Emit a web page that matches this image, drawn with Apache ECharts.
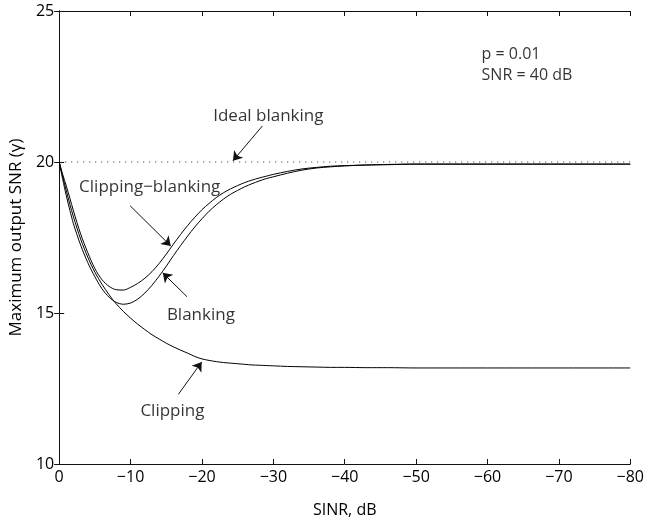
<!DOCTYPE html>
<html>
<head>
<meta charset="utf-8">
<script src="https://cdn.jsdelivr.net/npm/echarts@6/dist/echarts.min.js"></script>
<style>
html,body{margin:0;padding:0;background:#fff;}
#chart{width:647px;height:523px;}
</style>
</head>
<body>
<div id="chart"></div>
<script>
// SINR values (dB)
const sinr = [0,-0.5,-1,-1.5,-2,-3,-4,-5,-6,-7,-8,-9,-10,-11,-12,-13,-14,-15,-16,-17,-18,-19,-20,-21,-22,-23,-24,-25,-26,-27,-28,-29,-30,-32,-34,-36,-38,-40,-43,-46,-50,-55,-60,-70,-80];
// Maximum output SNR for each nonlinearity
const clipBlank = [20,19.58,19.2,18.8,18.38,17.62,17.0,16.47,16.1,15.88,15.77,15.76,15.85,15.98,16.15,16.37,16.64,16.95,17.28,17.6,17.9,18.17,18.42,18.63,18.82,18.98,19.11,19.22,19.32,19.4,19.47,19.53,19.59,19.69,19.77,19.82,19.86,19.88,19.9,19.92,19.93,19.93,19.93,19.93,19.93];
const blanking = [20,19.42,18.88,18.4,17.95,17.25,16.67,16.2,15.8,15.52,15.35,15.29,15.33,15.46,15.66,15.92,16.22,16.55,16.9,17.23,17.55,17.85,18.12,18.37,18.58,18.77,18.93,19.06,19.18,19.28,19.37,19.45,19.51,19.63,19.73,19.8,19.84,19.87,19.9,19.91,19.93,19.93,19.93,19.93,19.93];
const clipping = [20,19.5,19.05,18.6,18.18,17.45,16.85,16.35,15.95,15.6,15.3,15.05,14.83,14.63,14.45,14.28,14.14,14.0,13.88,13.77,13.67,13.56,13.48,13.43,13.39,13.36,13.34,13.32,13.3,13.28,13.27,13.26,13.25,13.23,13.22,13.21,13.2,13.2,13.19,13.19,13.18,13.18,13.18,13.18,13.18];
const idealX = [0,-80];
const idealY = [20,20];

// tick labels
const xTickValues = [0,-10,-20,-30,-40,-50,-60,-70,-80];
const xTickLabels = ['0','\u221210','\u221220','\u221230','\u221240','\u221250','\u221260','\u221270','\u221280'];
const yTickValues = [10,15,20,25];
const yTickLabels = ['10','15','20','25'];

// annotations (data coordinates)
const noteText = ['Ideal blanking','Clipping\u2212blanking','Blanking','Clipping'];
const noteAt = [[-29.3,21.52],[-12.68,19.17],[-19.85,14.94],[-15.86,11.74]];
const arrowFrom = [[-28.45,21.19],[-9.94,18.55],[-17.9,15.54],[-16.7,12.31]];
const arrowTo = [[-24.34,20.04],[-15.63,17.22],[-14.5,16.33],[-19.97,13.38]];
const paramText = ['p = 0.01','SNR = 40 dB'];
const paramAt = [[-59.1,23.57],[-59.1,22.86]];

const FONT = 'Open Sans';
const zip = (xs, ys) => xs.map((x,i)=>[x, ys[i]]);
const curveStyle = {color:'#000', width:1};

const chart = echarts.init(document.getElementById('chart'), null, {renderer:'canvas'});
const axisLineStyle = {lineStyle:{color:'#111', width:1}};
const tickStyle = {show:true, inside:true, length:5, lineStyle:{color:'#111', width:1}};
chart.setOption({
  animation:false,
  backgroundColor:'#fff',
  textStyle:{fontFamily:FONT},
  grid:{left:54, right:8, top:11, bottom:51, containLabel:false},
  xAxis:[
    {type:'value', min:-80, max:0, interval:10, inverse:true, position:'bottom',
     name:'SINR, dB', nameLocation:'middle', nameGap:38,
     nameTextStyle:{fontFamily:FONT, fontSize:16, color:'#000'},
     axisLine:axisLineStyle, axisTick:tickStyle, splitLine:{show:false},
     axisLabel:{fontFamily:FONT, fontSize:16, color:'#000', margin:5,
       formatter:(v)=>{const i=xTickValues.indexOf(v); return i>=0?xTickLabels[i]:'';}}},
    {type:'value', min:-80, max:0, interval:10, inverse:true, position:'top',
     axisLine:axisLineStyle, axisTick:tickStyle, axisLabel:{show:false}, splitLine:{show:false}}
  ],
  yAxis:[
    {type:'value', min:10, max:25, interval:5, position:'left',
     name:'Maximum output SNR (\u03B3)', nameLocation:'middle', nameGap:33,
     nameTextStyle:{fontFamily:FONT, fontSize:17, color:'#000'},
     axisLine:axisLineStyle, axisTick:tickStyle, splitLine:{show:false},
     axisLabel:{fontFamily:FONT, fontSize:16, color:'#000', margin:5,
       formatter:(v)=>{const i=yTickValues.indexOf(v); return i>=0?yTickLabels[i]:'';}}},
    {type:'value', min:10, max:25, interval:5, position:'right',
     axisLine:axisLineStyle, axisTick:tickStyle, axisLabel:{show:false}, splitLine:{show:false}}
  ],
  series:[
    {type:'line', name:'Ideal blanking', data:zip(idealX, idealY), showSymbol:false, symbol:'none',
     lineStyle:{color:'#333', width:1, type:[1,5]}, z:1},
    {type:'line', name:'Clipping-blanking', data:zip(sinr, clipBlank), showSymbol:false, symbol:'none', smooth:0.3, lineStyle:curveStyle, z:3},
    {type:'line', name:'Blanking', data:zip(sinr, blanking), showSymbol:false, symbol:'none', smooth:0.3, lineStyle:curveStyle, z:3},
    {type:'line', name:'Clipping', data:zip(sinr, clipping), showSymbol:false, symbol:'none', smooth:0.3, lineStyle:curveStyle, z:3},
    {type:'lines', coordinateSystem:'cartesian2d', polyline:false, silent:true,
     symbol:['none','arrow'], symbolSize:9,
     lineStyle:{color:'#111', width:1, curveness:0, opacity:1},
     data:arrowFrom.map((f,i)=>({coords:[f, arrowTo[i]]})), z:4},
    {type:'scatter', symbolSize:1, itemStyle:{color:'transparent'}, silent:true,
     data:noteAt.map((p,i)=>({value:p, name:noteText[i]})),
     label:{show:true, position:'inside', formatter:(p)=>p.name, fontFamily:FONT, fontSize:17, color:'#000'}, z:5},
    {type:'scatter', symbolSize:1, itemStyle:{color:'transparent'}, silent:true,
     data:paramAt.map((p,i)=>({value:p, name:paramText[i]})),
     label:{show:true, position:'right', distance:0, align:'left', formatter:(p)=>p.name, fontFamily:FONT, fontSize:16, color:'#000'}, z:5}
  ]
});
</script>
</body>
</html>
